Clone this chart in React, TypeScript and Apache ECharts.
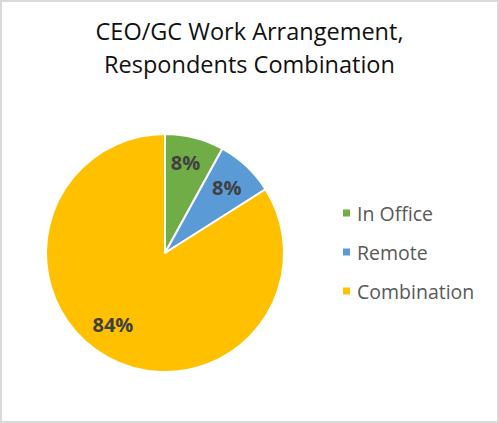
import { useRef, useEffect } from "react";
import * as echarts from "echarts";

const categories = ["In Office", "Remote", "Combination"];
const shares = [8, 8, 84];
const colors = ["#70AD47", "#5B9BD5", "#FFC000"];
// nudges from the default "inside" label spot, like Excel's best fit placement
const labelOffsets = [
  [5, -30],
  [19, -20],
  [-22, 17],
];

export default function App() {
  const chartRef = useRef<HTMLDivElement>(null);

  useEffect(() => {
    document.body.style.margin = "0";
    if (!chartRef.current) return;
    const chart = echarts.init(chartRef.current, null, { renderer: "svg" });

    const font = "'Open Sans', sans-serif";

    chart.setOption({
      animation: false,
      title: {
        text: "CEO/GC Work Arrangement,\nRespondents Combination",
        left: "center",
        top: 9,
        textStyle: {
          fontFamily: font,
          fontSize: 23.5,
          fontWeight: "normal",
          color: "#111",
          lineHeight: 33,
        },
      },
      legend: {
        orient: "vertical",
        left: 336,
        top: 198,
        itemWidth: 9,
        itemHeight: 9,
        itemGap: 19,
        icon: "rect",
        data: categories,
        textStyle: {
          fontFamily: font,
          fontSize: 19.5,
          color: "#595959",
          padding: [0, 0, 0, 1],
        },
      },
      series: [
        {
          type: "pie",
          center: [165, 253],
          radius: 119,
          startAngle: 90,
          clockwise: true,
          itemStyle: { borderColor: "#fff", borderWidth: 2 },
          label: {
            show: true,
            position: "inside",
            formatter: "{c}%",
            fontFamily: font,
            fontSize: 20,
            fontWeight: "bold",
            color: "#404040",
          },
          labelLine: { show: false },
          emphasis: { disabled: true },
          data: categories.map((name, i) => ({
            name,
            value: shares[i],
            itemStyle: { color: colors[i] },
            label: { offset: labelOffsets[i] },
          })),
        },
      ],
    });

    return () => {
      chart.dispose();
    };
  }, []);

  return (
    <div
      style={{
        width: 499,
        height: 423,
        boxSizing: "border-box",
        border: "2px solid #d9d9d9",
        background: "#fff",
        position: "relative",
      }}
    >
      <div
        ref={chartRef}
        style={{ position: "absolute", left: -2, top: -2, width: 499, height: 423 }}
      />
    </div>
  );
}
